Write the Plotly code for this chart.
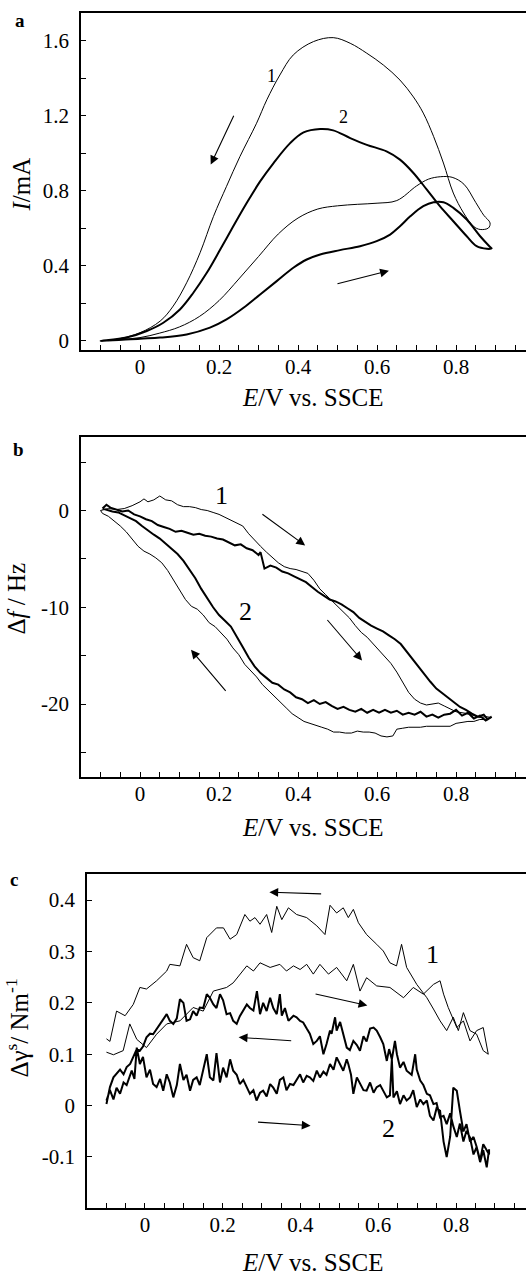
import plotly.graph_objects as go

# ---------------- Panel a: cyclic voltammograms ----------------
a1_fwd_E = [-0.10, -0.05, 0.00, 0.05, 0.10, 0.15, 0.20, 0.25, 0.30, 0.35, 0.40, 0.45, 0.50, 0.55, 0.60, 0.65,
            0.70, 0.73, 0.76, 0.79, 0.82, 0.85, 0.87, 0.886]
a1_fwd_I = [0.0, 0.008, 0.018, 0.042, 0.075, 0.13, 0.215, 0.33, 0.45, 0.57, 0.655, 0.703, 0.72, 0.728, 0.734, 0.748,
            0.826, 0.862, 0.875, 0.872, 0.835, 0.737, 0.67, 0.629]
a1_rev_E = [0.882, 0.861, 0.844, 0.819, 0.793, 0.768, 0.743, 0.717, 0.692, 0.658, 0.616, 0.574, 0.532, 0.489, 0.439,
            0.388, 0.354, 0.321, 0.295, 0.253, 0.219, 0.186, 0.152, 0.118, 0.084, 0.051, 0.0, -0.059, -0.10]
a1_rev_I = [0.602, 0.594, 0.611, 0.682, 0.788, 0.948, 1.09, 1.214, 1.30, 1.39, 1.47, 1.533, 1.586, 1.616, 1.595,
            1.524, 1.417, 1.285, 1.16, 0.983, 0.824, 0.664, 0.47, 0.31, 0.186, 0.106, 0.044, 0.009, 0.0]

a2_fwd_E = [-0.10, 0.0, 0.051, 0.118, 0.177, 0.219, 0.262, 0.304, 0.346, 0.388, 0.422, 0.456, 0.506, 0.557, 0.599,
            0.633, 0.658, 0.684, 0.717, 0.743, 0.768, 0.793, 0.827, 0.861, 0.886]
a2_fwd_I = [0.0, 0.012, 0.018, 0.035, 0.071, 0.115, 0.177, 0.248, 0.319, 0.39, 0.434, 0.461, 0.484, 0.505, 0.532,
            0.567, 0.611, 0.664, 0.718, 0.739, 0.739, 0.709, 0.647, 0.558, 0.501]
a2_rev_E = [0.89, 0.878, 0.852, 0.827, 0.793, 0.759, 0.726, 0.692, 0.658, 0.624, 0.574, 0.532, 0.489, 0.456, 0.414,
            0.380, 0.338, 0.304, 0.270, 0.236, 0.203, 0.169, 0.135, 0.101, 0.059, 0.017, -0.034, -0.10]
a2_rev_I = [0.493, 0.491, 0.505, 0.558, 0.638, 0.718, 0.806, 0.895, 0.966, 1.01, 1.045, 1.081, 1.122, 1.129, 1.111,
            1.054, 0.948, 0.850, 0.735, 0.611, 0.487, 0.363, 0.257, 0.168, 0.097, 0.053, 0.018, 0.0]

# ---------------- Panel b: frequency change ----------------
b1_fwd_E = [-0.10, -0.08, -0.06, -0.04, -0.02, 0.0, 0.01, 0.02, 0.035, 0.05, 0.065, 0.08, 0.095, 0.11, 0.125, 0.14,
            0.155, 0.17, 0.185, 0.20, 0.215, 0.23, 0.245, 0.26, 0.275, 0.29, 0.305, 0.32, 0.335, 0.35, 0.365, 0.38,
            0.395, 0.41, 0.425, 0.44, 0.455, 0.47, 0.485, 0.50, 0.515, 0.53, 0.545, 0.56, 0.575, 0.59, 0.605, 0.62,
            0.635, 0.65, 0.665, 0.68, 0.695, 0.71, 0.725, 0.74, 0.755, 0.77, 0.785, 0.80, 0.815, 0.83, 0.845, 0.86,
            0.875, 0.89]
b1_fwd_f = [0.0, 0.2, 0.1, 0.2, 0.5, 0.9, 1.2, 0.9, 1.1, 1.5, 1.1, 1.0, 0.6, 0.4, 0.4, 0.3,
            0.1, 0.0, -0.2, -0.4, -0.7, -1.0, -1.3, -1.6, -2.4, -3.1, -3.7, -4.3, -4.9, -5.4, -5.8, -6.0,
            -6.1, -6.3, -6.5, -7.2, -8.1, -8.7, -9.3, -9.9, -10.5, -11.1, -11.9, -12.6, -13.1, -13.8, -14.5, -15.1,
            -15.8, -16.7, -17.8, -18.8, -19.5, -19.9, -20.1, -20.0, -19.9, -20.2, -20.5, -20.8, -20.9, -21.0, -21.2,
            -21.4, -21.3, -21.4]
b1_rev_E = [0.89, 0.875, 0.86, 0.845, 0.83, 0.815, 0.80, 0.785, 0.77, 0.755, 0.74, 0.725, 0.71, 0.695, 0.68, 0.665,
            0.65, 0.64, 0.625, 0.61, 0.595, 0.58, 0.565, 0.55, 0.535, 0.52, 0.505, 0.49, 0.475, 0.46, 0.445, 0.43,
            0.415, 0.40, 0.385, 0.37, 0.355, 0.34, 0.325, 0.31, 0.295, 0.28, 0.265, 0.25, 0.235, 0.22, 0.205, 0.19,
            0.175, 0.16, 0.145, 0.13, 0.115, 0.10, 0.085, 0.07, 0.055, 0.04, 0.025, 0.01, -0.005, -0.02, -0.035,
            -0.05, -0.065, -0.08, -0.095, -0.10]
b1_rev_f = [-21.4, -21.6, -21.6, -21.8, -21.8, -21.9, -22.0, -22.3, -22.3, -22.3, -22.3, -22.3, -22.4, -22.4, -22.4,
            -22.5, -22.6, -23.3, -23.4, -23.3, -23.0, -22.9, -22.9, -22.8, -23.0, -23.0, -22.9, -22.9, -22.6, -22.4,
            -22.2, -22.0, -21.8, -21.4, -21.0, -20.4, -19.8, -19.2, -18.6, -18.0, -17.2, -16.6, -15.9, -14.9, -14.2,
            -13.3, -12.6, -12.0, -11.6, -10.8, -10.2, -9.9, -9.2, -8.2, -7.2, -6.2, -5.4, -4.9, -4.5, -4.2, -3.7,
            -2.9, -2.2, -1.6, -1.1, -0.6, -0.3, 0.0]

b2_fwd_E = [-0.095, -0.085, -0.075, -0.06, -0.045, -0.03, -0.015, 0.0, 0.015, 0.03, 0.045, 0.06, 0.075, 0.09, 0.105,
            0.12, 0.135, 0.15, 0.165, 0.18, 0.195, 0.21, 0.225, 0.24, 0.255, 0.27, 0.285, 0.30, 0.305, 0.315, 0.33,
            0.345, 0.36, 0.375, 0.39, 0.405, 0.42, 0.435, 0.45, 0.465, 0.48, 0.495, 0.51, 0.525, 0.54, 0.555, 0.57,
            0.585, 0.60, 0.615, 0.63, 0.645, 0.66, 0.675, 0.69, 0.705, 0.72, 0.735, 0.75, 0.765, 0.78, 0.795, 0.81,
            0.825, 0.84, 0.855, 0.87, 0.88, 0.89]
b2_fwd_f = [0.2, 0.6, 0.3, 0.1, -0.1, 0.0, -0.4, -0.6, -0.9, -1.1, -1.5, -1.7, -1.9, -2.2, -2.1,
            -2.3, -2.5, -2.4, -2.6, -2.7, -2.9, -3.0, -3.3, -3.6, -3.5, -3.9, -4.1, -4.6, -4.3, -6.0, -5.7,
            -5.9, -6.3, -6.5, -6.8, -7.1, -7.4, -7.9, -8.4, -8.8, -9.2, -9.4, -9.7, -10.1, -10.5, -11.1, -11.5,
            -11.9, -12.2, -12.5, -12.9, -13.3, -13.8, -14.6, -15.3, -16.2, -17.0, -17.7, -18.4, -18.9, -19.3, -19.9,
            -20.3, -20.6, -21.0, -21.3, -21.1, -21.6, -21.3]
b2_rev_E = [0.89, 0.875, 0.86, 0.845, 0.83, 0.815, 0.80, 0.785, 0.77, 0.755, 0.74, 0.725, 0.71, 0.695, 0.68, 0.665,
            0.65, 0.635, 0.62, 0.605, 0.59, 0.575, 0.56, 0.545, 0.53, 0.515, 0.50, 0.485, 0.47, 0.455, 0.44, 0.425,
            0.41, 0.395, 0.38, 0.365, 0.35, 0.335, 0.32, 0.305, 0.29, 0.275, 0.26, 0.245, 0.23, 0.215, 0.20, 0.185,
            0.17, 0.155, 0.14, 0.125, 0.11, 0.095, 0.08, 0.065, 0.05, 0.035, 0.02, 0.005, -0.01, -0.025, -0.04,
            -0.055, -0.07, -0.085, -0.095]
b2_rev_f = [-21.3, -21.7, -21.2, -21.5, -20.9, -21.2, -20.6, -21.0, -21.1, -21.4, -21.1, -21.3, -20.8, -21.1, -20.9,
            -21.1, -20.7, -20.9, -20.6, -20.9, -20.6, -20.9, -20.5, -20.8, -20.6, -20.3, -20.5, -20.2, -19.8, -20.0,
            -19.6, -19.9, -19.5, -19.3, -18.8, -18.5, -18.0, -17.8, -17.3, -16.8, -16.1, -15.2, -14.1, -13.1, -12.0,
            -11.4, -10.8, -10.0, -9.1, -8.1, -7.0, -6.1, -5.2, -4.5, -4.0, -3.4, -2.9, -2.5, -2.0, -1.6, -1.1, -0.8,
            -0.5, -0.2, -0.1, 0.1, 0.2]

# ---------------- Panel c: surface stress change ----------------
c1_fwd_E = [-0.099, -0.081, -0.056, -0.039, -0.021, 0.004, 0.03, 0.056, 0.09, 0.124, 0.15, 0.176, 0.21, 0.227, 0.262,
            0.279, 0.296, 0.322, 0.347, 0.364, 0.382, 0.399, 0.416, 0.433, 0.45, 0.472, 0.493, 0.519, 0.536, 0.553,
            0.57, 0.596, 0.63, 0.665, 0.69, 0.716, 0.742, 0.759, 0.768, 0.78, 0.802, 0.819, 0.836, 0.853, 0.87, 0.883]
c1_fwd_g = [0.104, 0.099, 0.107, 0.159, 0.129, 0.113, 0.139, 0.159, 0.165, 0.191, 0.184, 0.223, 0.23, 0.239, 0.272,
            0.262, 0.278, 0.269, 0.275, 0.262, 0.272, 0.265, 0.275, 0.256, 0.275, 0.256, 0.269, 0.243, 0.275, 0.223,
            0.249, 0.233, 0.23, 0.21, 0.23, 0.217, 0.236, 0.243, 0.217, 0.191, 0.152, 0.165, 0.126, 0.146, 0.152, 0.10]
c1_rev_E = [0.883, 0.87, 0.853, 0.836, 0.819, 0.806, 0.793, 0.776, 0.759, 0.742, 0.725, 0.699, 0.673, 0.66, 0.647,
            0.63, 0.613, 0.596, 0.57, 0.549, 0.536, 0.523, 0.51, 0.493, 0.476, 0.463, 0.442, 0.416, 0.39, 0.369,
            0.352, 0.339, 0.326, 0.313, 0.296, 0.283, 0.27, 0.257, 0.236, 0.219, 0.202, 0.184, 0.159, 0.141, 0.124,
            0.107, 0.09, 0.064, 0.056, 0.03, 0.004, -0.013, -0.03, -0.051, -0.073, -0.09, -0.099]
c1_rev_g = [0.10, 0.107, 0.139, 0.146, 0.181, 0.146, 0.172, 0.146, 0.165, 0.188, 0.21, 0.236, 0.269, 0.314, 0.272,
            0.278, 0.301, 0.314, 0.333, 0.356, 0.382, 0.366, 0.385, 0.375, 0.39, 0.333, 0.35, 0.366, 0.372, 0.385,
            0.362, 0.388, 0.337, 0.372, 0.353, 0.366, 0.359, 0.372, 0.333, 0.324, 0.346, 0.346, 0.327, 0.282, 0.288,
            0.314, 0.272, 0.275, 0.262, 0.243, 0.227, 0.23, 0.197, 0.175, 0.184, 0.125, 0.13]

c2_fwd_E = [-0.099, -0.09, -0.081, -0.073, -0.064, -0.055, -0.047, -0.04, -0.034, -0.027, -0.021, -0.013, -0.005, 0.004,
            0.013, 0.021, 0.03, 0.039, 0.047, 0.056, 0.064, 0.073, 0.082, 0.09, 0.099, 0.107, 0.116, 0.124, 0.133,
            0.141, 0.15, 0.159, 0.167, 0.176, 0.184, 0.193, 0.201, 0.21, 0.219, 0.227, 0.236, 0.244, 0.253, 0.262,
            0.27, 0.279, 0.287, 0.296, 0.304, 0.313, 0.322, 0.33, 0.339, 0.347, 0.356, 0.364, 0.373, 0.382, 0.39,
            0.399, 0.407, 0.416, 0.424, 0.433, 0.442, 0.45, 0.459, 0.467, 0.476, 0.485, 0.493, 0.502, 0.51, 0.519,
            0.523, 0.53, 0.536, 0.545, 0.553, 0.562, 0.57, 0.579, 0.588, 0.596, 0.605, 0.613, 0.622, 0.63, 0.635,
            0.639, 0.648, 0.656, 0.665, 0.673, 0.682, 0.69, 0.699, 0.708, 0.716, 0.725, 0.733, 0.742, 0.75, 0.759,
            0.768, 0.776, 0.785, 0.793, 0.802, 0.81, 0.819, 0.827, 0.836, 0.845, 0.853, 0.862, 0.87, 0.879, 0.885]
c2_fwd_g = [0.01, 0.03, 0.012, 0.035, 0.023, 0.045, 0.04, 0.055, 0.068, 0.052, 0.113, 0.081, 0.095, 0.055,
            0.07, 0.042, 0.036, 0.052, 0.029, 0.061, 0.045, 0.016, 0.04, 0.081, 0.05, 0.06, 0.029, 0.05, 0.055,
            0.04, 0.07, 0.1, 0.055, 0.049, 0.102, 0.045, 0.074, 0.055, 0.09, 0.068, 0.06, 0.042, 0.05, 0.035,
            0.023, 0.03, 0.01, 0.025, 0.029, 0.018, 0.042, 0.035, 0.023, 0.05, 0.055, 0.03, 0.042, 0.04, 0.05,
            0.061, 0.045, 0.058, 0.055, 0.048, 0.068, 0.055, 0.066, 0.06, 0.081, 0.07, 0.094, 0.08, 0.068, 0.09,
            0.081, 0.06, 0.023, 0.055, 0.042, 0.03, 0.029, 0.045, 0.025, 0.036, 0.04, 0.03, 0.016, 0.02, 0.09,
            0.016, 0.028, 0.003, 0.02, 0.01, 0.016, 0.03, -0.003, 0.012, 0.003, 0.01, -0.02, -0.029, -0.005, -0.01,
            -0.07, -0.1, -0.06, 0.035, 0.029, -0.01, -0.05, -0.036, -0.07, -0.061, -0.08, -0.107, -0.075, -0.087, -0.095]
c2_rev_E = [0.885, 0.879, 0.87, 0.862, 0.853, 0.845, 0.836, 0.827, 0.819, 0.81, 0.802, 0.793, 0.785, 0.776, 0.768,
            0.759, 0.75, 0.742, 0.733, 0.725, 0.716, 0.708, 0.699, 0.695, 0.686, 0.673, 0.665, 0.656, 0.648, 0.643,
            0.635, 0.628, 0.622, 0.613, 0.605, 0.596, 0.588, 0.579, 0.57, 0.562, 0.553, 0.545, 0.536, 0.527, 0.519,
            0.51, 0.502, 0.493, 0.489, 0.48, 0.476, 0.467, 0.459, 0.45, 0.442, 0.433, 0.424, 0.416, 0.407, 0.399,
            0.39, 0.382, 0.373, 0.369, 0.36, 0.352, 0.347, 0.339, 0.33, 0.322, 0.313, 0.304, 0.296, 0.288, 0.279,
            0.27, 0.262, 0.253, 0.244, 0.236, 0.227, 0.219, 0.21, 0.201, 0.193, 0.184, 0.176, 0.167, 0.159, 0.15,
            0.141, 0.133, 0.124, 0.116, 0.107, 0.099, 0.09, 0.082, 0.073, 0.064, 0.056, 0.047, 0.039, 0.03, 0.021,
            0.013, 0.004, -0.005, -0.013, -0.021, -0.03, -0.038, -0.047, -0.055, -0.064, -0.073, -0.081, -0.09, -0.099]
c2_rev_g = [-0.085, -0.12, -0.087, -0.11, -0.081, -0.095, -0.062, -0.049, -0.07, -0.035, -0.061, -0.04, -0.015, -0.036,
            -0.02, -0.023, 0.005, 0.003, 0.02, 0.023, 0.04, 0.049, 0.07, 0.1, 0.06, 0.068, 0.085, 0.074, 0.1, 0.126,
            0.09, 0.11, 0.087, 0.12, 0.133, 0.146, 0.152, 0.15, 0.125, 0.135, 0.107, 0.118, 0.126, 0.108, 0.113,
            0.14, 0.163, 0.146, 0.172, 0.14, 0.146, 0.12, 0.1, 0.135, 0.126, 0.12, 0.14, 0.15, 0.162, 0.165,
            0.172, 0.175, 0.168, 0.165, 0.19, 0.175, 0.217, 0.178, 0.19, 0.21, 0.184, 0.2, 0.178, 0.223, 0.185,
            0.19, 0.197, 0.184, 0.174, 0.159, 0.165, 0.18, 0.178, 0.205, 0.217, 0.19, 0.197, 0.21, 0.217, 0.19,
            0.191, 0.175, 0.184, 0.168, 0.165, 0.2, 0.207, 0.17, 0.159, 0.165, 0.178, 0.168, 0.159, 0.15, 0.139,
            0.14, 0.133, 0.115, 0.107, 0.11, 0.095, 0.081, 0.075, 0.061, 0.07, 0.061, 0.055, 0.036, 0.003, 0.042]

# tick labels
a_y_ticks = [0, 0.4, 0.8, 1.2, 1.6]
a_y_text = ["0", "0.4", "0.8", "1.2", "1.6"]
b_y_ticks = [-20, -10, 0]
b_y_text = ["-20", "-10", "0"]
c_y_ticks = [-0.1, 0, 0.1, 0.2, 0.3, 0.4]
c_y_text = ["-0.1", "0", "0.1", "0.2", "0.3", "0.4"]
x_ticks = [0, 0.2, 0.4, 0.6, 0.8]
x_text = ["0", "0.2", "0.4", "0.6", "0.8"]

W, H = 526, 1273
FONT = "Liberation Serif, Times New Roman, Times, serif"
THIN, THICK = 1.0, 2.0

fig = go.Figure()


def add_loop(E1, v1, E2, v2, width, xa, ya, shape="linear"):
    fig.add_trace(go.Scatter(x=E1 + E2, y=v1 + v2, mode="lines", xaxis=xa, yaxis=ya,
                             line=dict(color="black", width=width, shape=shape), showlegend=False,
                             hoverinfo="skip"))


add_loop(a1_fwd_E, a1_fwd_I, a1_rev_E, a1_rev_I, THIN, "x", "y", "spline")
add_loop(a2_fwd_E, a2_fwd_I, a2_rev_E, a2_rev_I, THICK, "x", "y", "spline")
add_loop(b1_fwd_E, b1_fwd_f, b1_rev_E, b1_rev_f, THIN, "x2", "y2")
add_loop(b2_fwd_E, b2_fwd_f, b2_rev_E, b2_rev_f, THICK, "x2", "y2")
add_loop(c1_fwd_E, c1_fwd_g, c1_rev_E, c1_rev_g, THIN, "x3", "y3")
add_loop(c2_fwd_E, c2_fwd_g, c2_rev_E, c2_rev_g, THICK, "x3", "y3")

tickfont = dict(family=FONT, size=21, color="black")


def xax(domain, rng):
    return dict(domain=domain, range=rng, showline=True, linecolor="black", linewidth=1.5, mirror=True,
                ticks="inside", ticklen=5, tickcolor="black", tickwidth=1, tickmode="array",
                tickvals=x_ticks, ticktext=x_text, tickfont=tickfont, showgrid=False, zeroline=False,
                minor=dict(ticks="inside", ticklen=5, dtick=0.05, tick0=0, tickcolor="black", showgrid=False),
                ticklabelstandoff=-3)


def yax(domain, rng, tv, tt, minor_dtick, anchor):
    d = dict(domain=domain, range=rng, showline=True, linecolor="black", linewidth=1.5, mirror=False,
             ticks="inside", ticklen=5, tickcolor="black", tickwidth=1, tickmode="array",
             tickvals=tv, ticktext=tt, tickfont=tickfont, showgrid=False, zeroline=False, anchor=anchor,
             ticklabelstandoff=6)
    if minor_dtick:
        d["minor"] = dict(ticks="inside", ticklen=5, dtick=minor_dtick, tick0=0, tickcolor="black", showgrid=False)
    return d


def py(p):
    return 1 - p / H


fig.update_layout(
    width=W, height=H, margin=dict(l=0, r=0, t=0, b=0),
    paper_bgcolor="white", plot_bgcolor="white",
    font=dict(family=FONT, color="black"),
    xaxis=xax([81 / W, 1.0], [-0.1494, 0.977]) | dict(anchor="y"),
    yaxis=yax([py(351), py(12.7)], [-0.049, 1.749], a_y_ticks, a_y_text, 0.2, "x"),
    xaxis2=xax([81 / W, 1.0], [-0.1494, 0.977]) | dict(anchor="y2"),
    yaxis2=yax([py(779), py(438.3)], [-27.56, 7.57], b_y_ticks, b_y_text, 5, "x2"),
    xaxis3=xax([87 / W, 1.0], [-0.149, 0.980]) | dict(anchor="y3"),
    yaxis3=yax([py(1210.7), py(876)], [-0.199, 0.451], c_y_ticks, c_y_text, None, "x3"),
)

ann = []
tfont = dict(family=FONT, size=25, color="black")
# axis titles
for ycen in (398, 829, 1265):
    ann.append(dict(text="<i>E</i>/V vs. SSCE", x=313 / W, y=py(ycen), xref="paper", yref="paper",
                    showarrow=False, font=tfont, xanchor="center", yanchor="middle"))
for txt, xc, yc in (("<i>I</i>/mA", 22, 185), ("Δ<i>f</i> / Hz", 17, 600),
                    ("Δγ<sup>s</sup>/ Nm<sup>-1</sup>", 17, 1031)):
    ann.append(dict(text=txt, x=xc / W, y=py(yc), xref="paper", yref="paper", showarrow=False, font=tfont,
                    textangle=-90, xanchor="center", yanchor="middle"))
# panel letters
for txt, xc, yc in (("a", 20, 21), ("b", 19, 451), ("c", 14, 882)):
    ann.append(dict(text="<b>%s</b>" % txt, x=xc / W, y=py(yc), xref="paper", yref="paper", showarrow=False,
                    font=dict(family=FONT, size=19, color="black"), xanchor="center", yanchor="middle"))
# curve labels
for txt, x, y, xr, yr, sz in (("1", 0.334, 1.412, "x", "y", 18), ("2", 0.514, 1.194, "x", "y", 18),
                              ("1", 0.207, 1.55, "x2", "y2", 26), ("2", 0.268, -10.47, "x2", "y2", 26),
                              ("1", 0.739, 0.294, "x3", "y3", 26), ("2", 0.626, -0.045, "x3", "y3", 26)):
    ann.append(dict(text=txt, x=x, y=y, xref=xr, yref=yr, showarrow=False,
                    font=dict(family=FONT, size=sz, color="black"), xanchor="center", yanchor="middle"))
# scan-direction arrows (head x,y ; tail ax,ay)
arrows = [((0.179, 0.940), (0.239, 1.208), "x", "y"), ((0.630, 0.374), (0.496, 0.303), "x", "y"),
          ((0.418, -3.61), (0.306, -0.27), "x2", "y2"), ((0.562, -15.5), (0.471, -11.16), "x2", "y2"),
          ((0.129, -14.4), (0.220, -18.8), "x2", "y2"),
          ((0.320, 0.4155), (0.457, 0.412), "x3", "y3"), ((0.572, 0.195), (0.435, 0.218), "x3", "y3"),
          ((0.241, 0.133), (0.380, 0.126), "x3", "y3"), ((0.426, -0.039), (0.287, -0.032), "x3", "y3")]
for (hx, hy), (tx, ty), xr, yr in arrows:
    ann.append(dict(text="", x=hx, y=hy, ax=tx, ay=ty, xref=xr, yref=yr, axref=xr, ayref=yr, showarrow=True,
                    arrowhead=2, arrowsize=1.6, arrowwidth=1.1, arrowcolor="black"))
fig.update_layout(annotations=ann)

fig.write_html("out.html")
